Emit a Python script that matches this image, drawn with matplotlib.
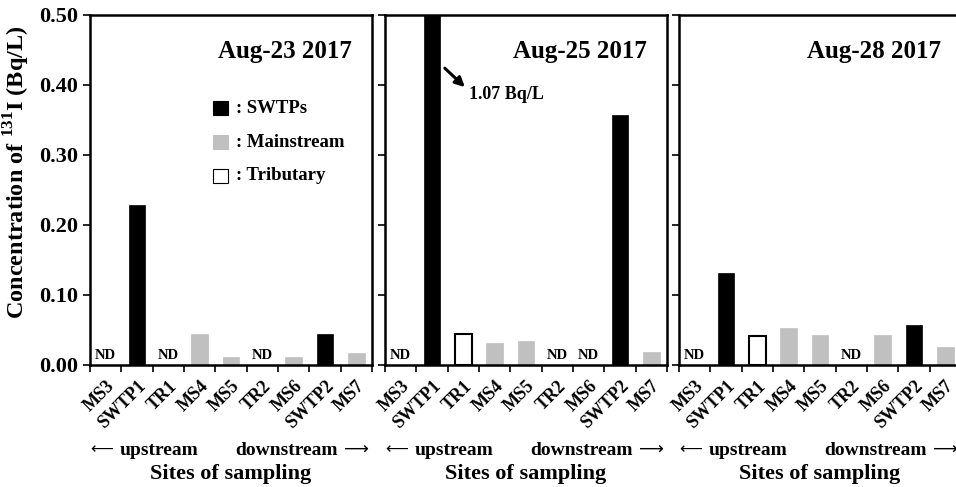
import matplotlib
matplotlib.use('Agg')
import matplotlib.pyplot as plt
from matplotlib.patches import Rectangle
import numpy as np

plt.rcParams['font.family'] = ['Liberation Serif', 'DejaVu Serif']
plt.rcParams['font.weight'] = 'bold'
plt.rcParams['mathtext.fontset'] = 'custom'
plt.rcParams['mathtext.rm'] = 'Liberation Serif:bold'
plt.rcParams['mathtext.bf'] = 'Liberation Serif:bold'

sites = ['MS3', 'SWTP1', 'TR1', 'MS4', 'MS5', 'TR2', 'MS6', 'SWTP2', 'MS7']
kinds = ['M', 'S', 'T', 'M', 'M', 'T', 'M', 'S', 'M']
dates = ['Aug-23 2017', 'Aug-25 2017', 'Aug-28 2017']
conc = [
    [0.0, 0.228, 0.0, 0.044, 0.012, 0.0, 0.012, 0.045, 0.017],
    [0.0, 1.07, 0.044, 0.031, 0.035, 0.0, 0.0, 0.357, 0.019],
    [0.0, 0.131, 0.042, 0.053, 0.043, 0.0, 0.043, 0.057, 0.026],
]

face = {'S': 'black', 'M': '#c0c0c0', 'T': 'white'}
edge = {'S': 'black', 'M': '#c0c0c0', 'T': 'black'}

fig = plt.figure(figsize=(9.56, 4.87), dpi=100)
lefts = [90, 385, 679]
x = np.arange(len(sites))

for k, (date, vals) in enumerate(zip(dates, conc)):
    ax = fig.add_axes([lefts[k] / 956, 1 - 365 / 487, 282 / 956, 350 / 487])
    for i, v in enumerate(vals):
        if v == 0:
            ax.text(i, 0.004, 'ND', ha='center', va='bottom', fontsize=10.5, fontweight='bold')
        else:
            ax.bar(i, v, width=0.54, color=face[kinds[i]], edgecolor=edge[kinds[i]],
                   linewidth=1.5 if kinds[i] == 'T' else 0.5, zorder=2)
    ax.set_xlim(-0.5, len(sites) - 0.5)
    ax.set_ylim(0, 0.5)
    ax.set_xticks(np.arange(len(sites) + 1) - 0.5)
    ax.set_xticklabels([])
    ax.set_xticks(x, minor=True)
    ax.set_xticklabels(sites, minor=True, rotation=45, ha='right', va='top',
                       rotation_mode='anchor', fontsize=13, fontweight='bold')
    ax.tick_params(axis='x', which='minor', length=0, pad=9)
    ax.tick_params(axis='x', which='major', direction='out', length=5, width=1.2)
    ax.tick_params(axis='y', direction='out', length=5, width=1.2)
    ax.set_yticks(np.arange(0, 0.51, 0.1))
    if k == 0:
        ax.set_yticklabels(['%.2f' % t for t in np.arange(0, 0.51, 0.1)],
                           fontsize=16, fontweight='bold')
        ax.set_ylabel('Concentration of $^{131}$I (Bq/L)', fontsize=17.5,
                      fontweight='bold')
        ax.yaxis.set_label_coords(-0.205, 0.55)
    else:
        ax.set_yticklabels([])
    for s in ax.spines.values():
        s.set_linewidth(1.8)
    ax.text(0.93, 0.895, date, transform=ax.transAxes, ha='right', va='center',
            fontsize=18, fontweight='bold')

    # upstream / downstream direction under the site names
    ax.text(0.0, -0.243, '\u27f5', transform=ax.transAxes, ha='left', va='center',
            fontsize=11.5, fontweight='normal', family='DejaVu Sans')
    ax.text(0.105, -0.243, 'upstream', transform=ax.transAxes, ha='left',
            va='center', fontsize=14, fontweight='bold')
    ax.text(0.879, -0.243, 'downstream', transform=ax.transAxes, ha='right',
            va='center', fontsize=14, fontweight='bold')
    ax.text(0.99, -0.243, '\u27f6', transform=ax.transAxes, ha='right', va='center',
            fontsize=12.5, fontweight='normal', family='DejaVu Sans')
    ax.text(0.5, -0.312, 'Sites of sampling', transform=ax.transAxes, ha='center',
            va='center', fontsize=16, fontweight='bold')

    if k == 0:
        # legend as text with square swatches
        rows = [(': SWTPs', 'S', 0.734), (': Mainstream', 'M', 0.637), (': Tributary', 'T', 0.54)]
        for lab, kd, yy in rows:
            ax.add_patch(Rectangle((0.436, yy - 0.02), 0.055, 0.04, transform=ax.transAxes,
                                   facecolor=face[kd], edgecolor='black' if kd != 'M' else face[kd],
                                   linewidth=0.8))
            ax.text(0.518, yy, lab, transform=ax.transAxes, ha='left', va='center',
                    fontsize=13.5, fontweight='bold')
    if k == 1:
        ax.annotate('', xy=(2.05, 0.397), xytext=(1.41, 0.424),
                    arrowprops=dict(arrowstyle='-|>', color='black', lw=2.2,
                                    mutation_scale=14, shrinkA=0, shrinkB=0))
        ax.text(2.18, 0.386, '1.07 Bq/L', ha='left', va='center', fontsize=13,
                fontweight='bold')

fig.savefig('out.png', dpi=100)
